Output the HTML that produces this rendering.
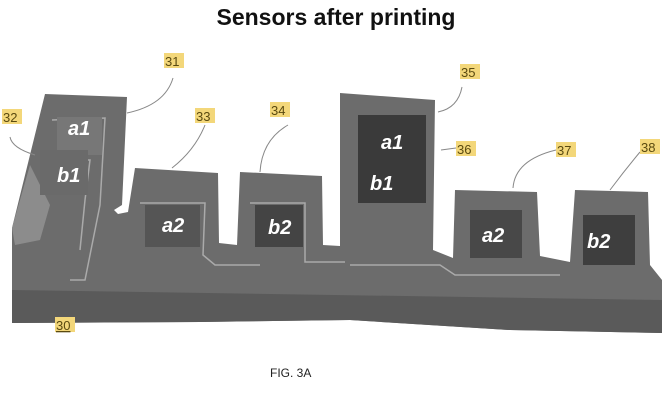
<!DOCTYPE html>
<html><head><style>
body{margin:0;background:#fff;width:672px;height:407px;overflow:hidden;font-family:"Liberation Sans",sans-serif}
</style></head><body>
<svg width="672" height="407" viewBox="0 0 672 407" xmlns="http://www.w3.org/2000/svg">
<text x="336" y="25" text-anchor="middle" font-family="Liberation Sans, sans-serif" font-weight="bold" font-size="23" fill="#111">Sensors after printing</text>
<path d="M12,228 L45,94 L127,97 L122,205 L114,210 L118,214 L128,212 L135,168 L218,173 L219,243 L237,245 L240,172 L322,176 L323,245 L340,246 L340,93 L435,100 L433,250 L453,258 L455,190 L537,192 L540,256 L570,262 L575,190 L648,192 L650,265 L662,280 L662,333 L510,330 L350,320 L200,322 L12,323 Z" fill="#6c6c6c"/>
<path d="M12,290 L662,300 L662,333 L510,330 L350,320 L200,322 L12,323 Z" fill="#5a5a5a"/>
<path d="M12,228 L30,165 L50,205 L40,240 L15,245Z" fill="#9a9a9a" opacity="0.7"/>
<g fill="none" stroke="#aaa" stroke-width="1.5">
<path d="M52,120 L105,118 L100,205 L85,280 L70,280"/>
<path d="M45,160 L90,160 L85,200 L80,250"/>
<path d="M140,203 L205,203 L203,255 L215,265 L260,265"/>
<path d="M250,203 L305,203 L305,262 L345,262"/>
<path d="M350,265 L440,265 L455,275 L560,275"/>
</g>
<rect x="57" y="117" width="45" height="38" fill="#777"/>
<rect x="40" y="150" width="48" height="45" fill="#6a6a6a"/>
<rect x="145" y="205" width="55" height="42" fill="#555"/>
<rect x="255" y="205" width="48" height="42" fill="#444"/>
<rect x="358" y="115" width="68" height="88" fill="#3a3a3a"/>
<rect x="470" y="210" width="52" height="48" fill="#484848"/>
<rect x="583" y="215" width="52" height="50" fill="#3e3e3e"/>
<g font-family="Liberation Sans, sans-serif" font-weight="bold" font-style="italic" font-size="20" fill="#fff">
<text x="68" y="135">a1</text><text x="57" y="182">b1</text>
<text x="162" y="232">a2</text><text x="268" y="234">b2</text>
<text x="381" y="149">a1</text><text x="370" y="190">b1</text>
<text x="482" y="242">a2</text><text x="587" y="248">b2</text>
</g>
<g fill="none" stroke="#888" stroke-width="1">
<path d="M173,78 Q165,105 127,113"/>
<path d="M10,137 Q12,148 35,155"/>
<path d="M205,125 Q195,150 172,168"/>
<path d="M288,125 Q262,140 260,172"/>
<path d="M462,87 Q458,108 438,112"/>
<path d="M456,148 L441,150"/>
<path d="M556,150 Q515,160 513,188"/>
<path d="M640,152 Q625,170 610,190"/>
</g>
<g font-family="Liberation Sans, sans-serif" font-size="13" fill="#5a4a10">
<rect x="164" y="53" width="20" height="15" fill="#f3d77a"/><text x="165" y="66">31</text>
<rect x="2" y="109" width="20" height="15" fill="#f3d77a"/><text x="3" y="122">32</text>
<rect x="195" y="108" width="20" height="15" fill="#f3d77a"/><text x="196" y="121">33</text>
<rect x="270" y="102" width="20" height="15" fill="#f3d77a"/><text x="271" y="115">34</text>
<rect x="460" y="64" width="20" height="15" fill="#f3d77a"/><text x="461" y="77">35</text>
<rect x="456" y="141" width="20" height="15" fill="#f3d77a"/><text x="457" y="154">36</text>
<rect x="556" y="142" width="20" height="15" fill="#f3d77a"/><text x="557" y="155">37</text>
<rect x="640" y="139" width="20" height="15" fill="#f3d77a"/><text x="641" y="152">38</text>
<rect x="55" y="317" width="20" height="15" fill="#f3d77a"/><text x="56" y="330" text-decoration="underline">30</text>
</g>
<text x="270" y="377" font-family="Liberation Sans, sans-serif" font-size="12" fill="#222">FIG. 3A</text>
</svg>
</body></html>
